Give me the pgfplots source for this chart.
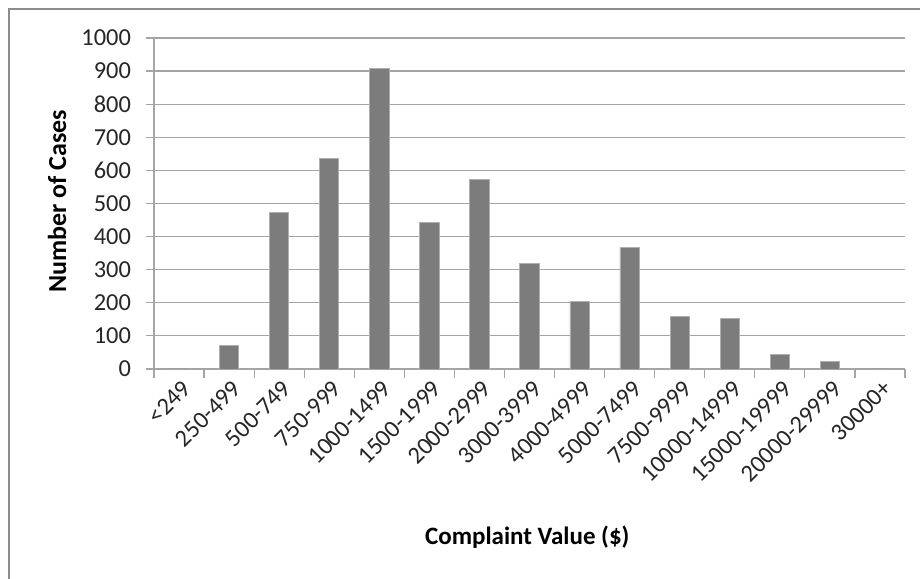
\documentclass[border=0pt]{standalone}
\usepackage{fontspec}
\setmainfont{Carlito}
\usepackage{pgfplots}
\pgfplotsset{compat=1.18}
\definecolor{barfill}{RGB}{124,124,124}
\definecolor{baredge}{RGB}{175,175,175}
\definecolor{gridc}{RGB}{165,165,165}
\definecolor{framec}{RGB}{140,140,140}
\begin{document}
\begin{tikzpicture}
\useasboundingbox (0,0) rectangle (460pt,289pt);
\draw[framec, line width=1pt] (4.5pt,-20pt) rectangle (480pt,284.5pt);
\begin{axis}[
  at={(77pt,104.5pt)}, anchor=south west,
  scale only axis, width=375.5pt, height=165.5pt,
  ybar, bar width=9.65pt,
  xmin=-0.5, xmax=14.5, ymin=0, ymax=1000,
  ytick={0,100,...,1000},
  xtick={0,...,14},
  xticklabels={<249,250-499,500-749,750-999,1000-1499,1500-1999,2000-2999,3000-3999,4000-4999,5000-7499,7500-9999,10000-14999,15000-19999,20000-29999,30000+},
  minor xtick={-0.5,0.5,...,14.5},
  major x tick style={draw=none},
  minor x tick style={draw=gridc, line width=0.6pt},
  minor tick length=4.5pt,
  tick align=outside,
  major tick length=4pt,
  ymajorgrids,
  grid style={gridc, line width=0.6pt},
  axis x line*=bottom, axis y line*=left,
  axis line style={gridc, line width=0.6pt},
  y tick style={gridc, line width=0.6pt},
  /pgf/number format/1000 sep={},
  /pgf/number format/assume math mode=true,
  ticklabel style={font=\fontsize{12.2}{14}\selectfont, text=black!85},
  yticklabel style={xshift=-4pt},
  xticklabel style={rotate=45, anchor=east, xshift=3.5pt, yshift=-5.5pt},
  xlabel={Complaint Value (\$)},
  ylabel={Number of Cases},
  every axis x label/.style={at={(axis description cs:0.497,-0.508)}, anchor=center, font=\bfseries\fontsize{12.5}{14}\selectfont},
  every axis y label/.style={at={(axis description cs:-0.129,0.507)}, anchor=center, rotate=90, font=\bfseries\fontsize{13}{15}\selectfont},
]
\addplot[fill=barfill, draw=baredge, line width=0.4pt] coordinates {
(0,0) (1,71) (2,474) (3,636) (4,908) (5,442) (6,574) (7,318) (8,205) (9,366) (10,160) (11,152) (12,43) (13,24) (14,0)
};
\end{axis}
\end{tikzpicture}
\end{document}
